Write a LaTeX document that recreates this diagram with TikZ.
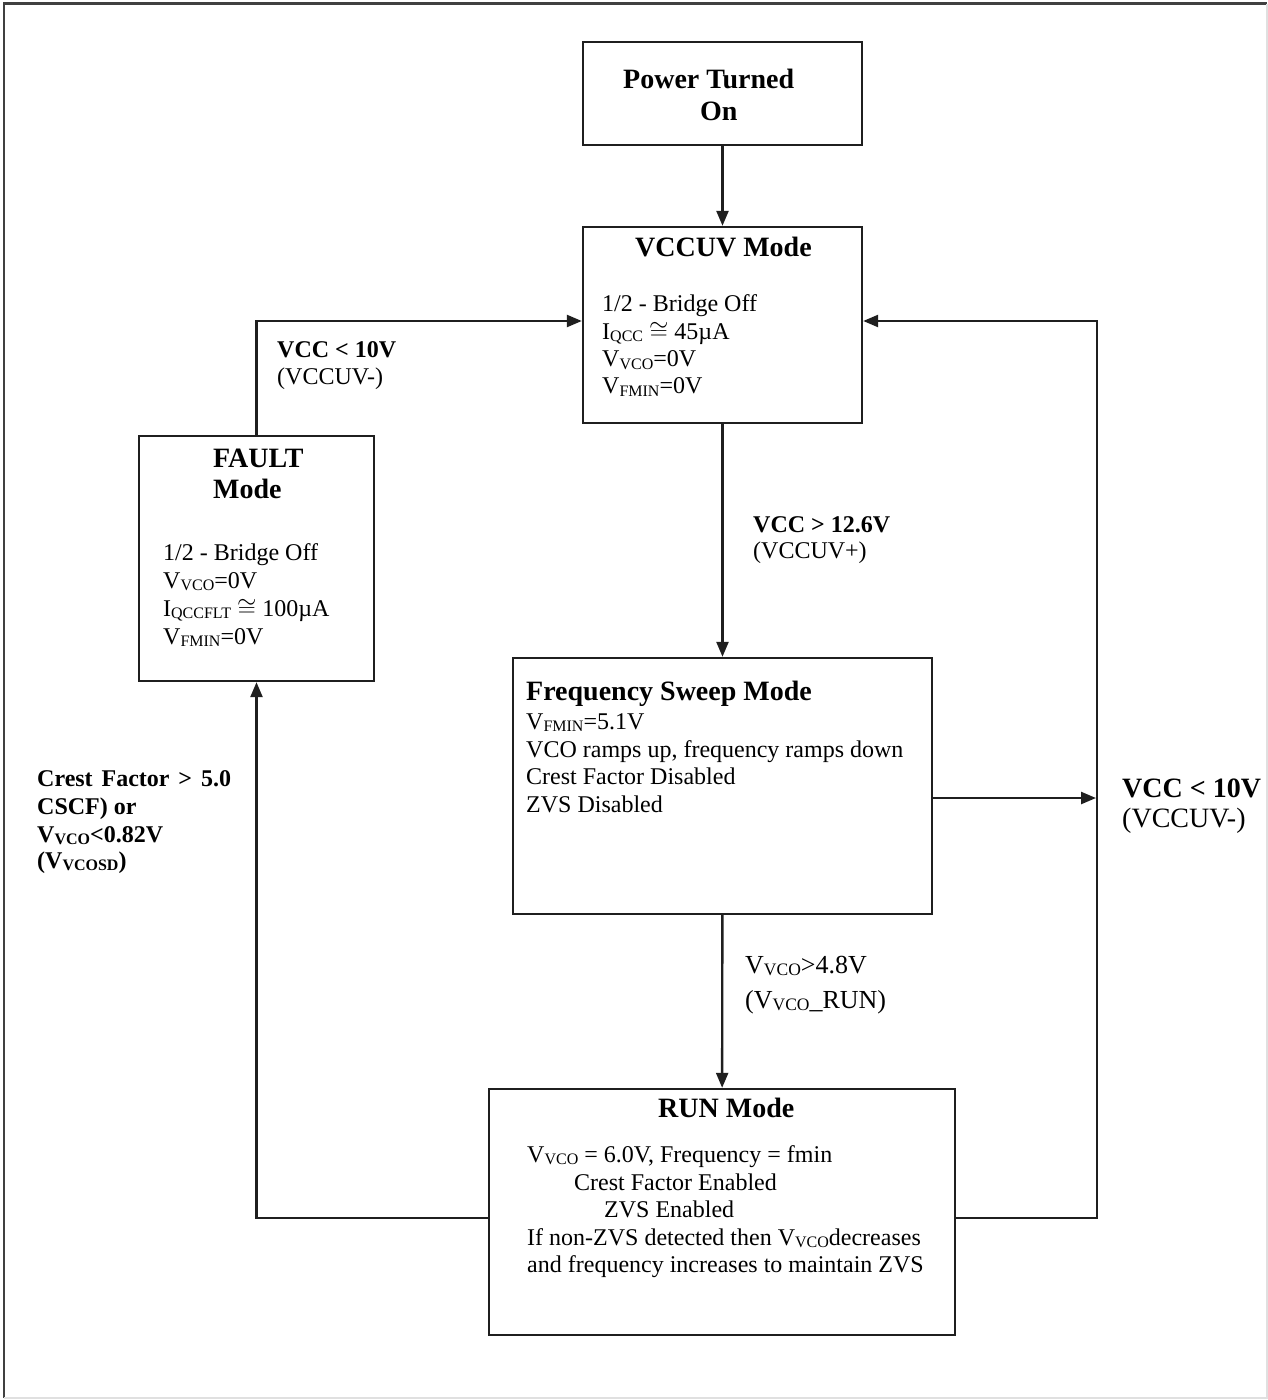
\documentclass[tikz,border=0pt]{standalone}
\usepackage{fontspec}
\setmainfont{Liberation Serif}
\usetikzlibrary{arrows.meta}
\newcommand\sbs[1]{\raisebox{-2.5pt}{\fontsize{16pt}{16pt}\selectfont #1}}
\newcommand\sbsl[1]{\raisebox{-2.5pt}{\fontsize{17.5pt}{17.5pt}\selectfont #1}}
\begin{document}
\begin{tikzpicture}[x=1pt,y=-1pt,
  box/.style={draw=black!88, line width=2.4pt, inner sep=0pt},
  conn/.style={draw=black!88, line width=2.4pt, -{Triangle[length=15pt,width=12pt]}},
  tx/.style={anchor=base west, inner sep=0pt, text height=16pt, text depth=4pt, font=\fontsize{24pt}{27pt}\selectfont},
  txb/.style={anchor=base west, inner sep=0pt, text height=16pt, text depth=4pt, font=\fontsize{24pt}{27pt}\selectfont\bfseries},
  txl/.style={anchor=base west, inner sep=0pt, text height=18pt, text depth=5pt, font=\fontsize{26pt}{30pt}\selectfont},
  ttl/.style={anchor=base west, inner sep=0pt, text height=19pt, text depth=5pt, font=\fontsize{28pt}{32pt}\selectfont\bfseries}]
\useasboundingbox (0,0) rectangle (1268,1400);
% outer frame
\draw[line width=2.5pt, draw=black!75] (4,1398) -- (4,3.5) -- (1267,3.5);
\draw[line width=2pt, draw=black!12] (1267,3.5) -- (1267,1398) -- (4,1398);

% boxes
\node[box, minimum width=279pt, minimum height=103pt] (power) at (722.5,93.5) {};
\node[box, minimum width=279pt, minimum height=196pt] (vccuv) at (722.5,325) {};
\node[box, minimum width=235pt, minimum height=245pt] (fault) at (256.5,558.5) {};
\node[box, minimum width=419pt, minimum height=256pt] (freq) at (722.5,786) {};
\node[box, minimum width=466pt, minimum height=246pt] (run) at (722,1212) {};

% helper coordinates
\coordinate (lt) at (256.5,321);
\coordinate (lb) at (256.5,1218);
\coordinate (rt) at (1097,321);
\coordinate (rb) at (1097,1218);
\coordinate (rm) at (1096,798);

% connectors
\draw[conn] (power) -- (vccuv);
\draw[conn] (vccuv) -- (freq);
\draw[conn] (freq) -- (run);
\draw[conn] (fault.north) -- (lt) -- (vccuv.west |- lt);
\draw[conn] (run.west |- lb) -- (lb) -- (fault.south);
\draw[conn] (run.east |- rb) -- (rb) -- (rt) -- (vccuv.east |- rt);
\draw[conn] (freq.east |- rm) -- (rm);

% Power box text
\node[ttl] (p1) at (623,88) {Power Turned};
\node[ttl] (p2) at (700,120.5) {On};

% VCCUV box text
\node[ttl] (v0) at (635,256) {VCCUV Mode};
\node[tx] (v1) at (602,311.5) {1/2 - Bridge Off};
\node[tx] (v2) at (602,339) {I\sbs{QCC} $\cong$ 45µA};
\node[tx] (v3) at (602,366.5) {V\sbs{VCO}=0V};
\node[tx] (v4) at (602,393.5) {V\sbs{FMIN}=0V};

% FAULT box text
\node[ttl] (f0) at (213,467) {FAULT};
\node[ttl] (f0b) at (213,498) {Mode};
\node[tx] (f1) at (163,560) {1/2 - Bridge Off};
\node[tx] (f2) at (163,588) {V\sbs{VCO}=0V};
\node[tx] (f3) at (163,616) {I\sbs{QCCFLT} $\cong$ 100µA};
\node[tx] (f4) at (163,644) {V\sbs{FMIN}=0V};

% Frequency sweep text
\node[ttl] (s0) at (526,700) {Frequency Sweep Mode};
\node[tx] (s1) at (526,729) {V\sbs{FMIN}=5.1V};
\node[tx] (s2) at (526,757) {VCO ramps up, frequency ramps down};
\node[tx] (s3) at (526,784) {Crest Factor Disabled};
\node[tx] (s4) at (526,812) {ZVS Disabled};

% RUN box text
\node[ttl] (r0) at (658,1117) {RUN Mode};
\node[tx] (r1) at (527,1162) {V\sbs{VCO} = 6.0V, Frequency = fmin};
\node[tx] (r2) at (574,1190) {Crest Factor Enabled};
\node[tx] (r3) at (604,1217) {ZVS Enabled};
\node[tx] (r4) at (527,1245) {If non-ZVS detected then V\sbs{VCO}decreases};
\node[tx] (r5) at (527,1272) {and frequency increases to maintain ZVS};

% connector labels
\node[txb] (la1) at (277,357) {VCC < 10V};
\node[tx] (la2) at (277,384) {(VCCUV-)};
\node[txb] (lb1) at (753,532) {VCC > 12.6V};
\node[tx] (lb2) at (753,558) {(VCCUV+)};
\node[ttl] (lc1) at (1122,797) {VCC < 10V};
\node[anchor=base west, inner sep=0pt, text height=19pt, text depth=6pt, font=\fontsize{28pt}{32pt}\selectfont] (lc2) at (1122,827) {(VCCUV-)};
\node[txl] (ld1) at (745,973) {V\sbsl{VCO}>4.8V};
\node[txl] (ld2) at (745,1008) {(V\sbsl{VCO}\_RUN)};
\node[txb] (le1) at (37,786) {Crest\hspace{0.12em} Factor\hspace{0.12em} >\hspace{0.12em} 5.0};
\node[txb] (le2) at (37,814) {CSCF) or};
\node[txb] (le3) at (37,842) {V\sbs{VCO}<0.82V};
\node[txb] (le4) at (37,868) {(V\sbs{VCOSD})};
\end{tikzpicture}
\end{document}
